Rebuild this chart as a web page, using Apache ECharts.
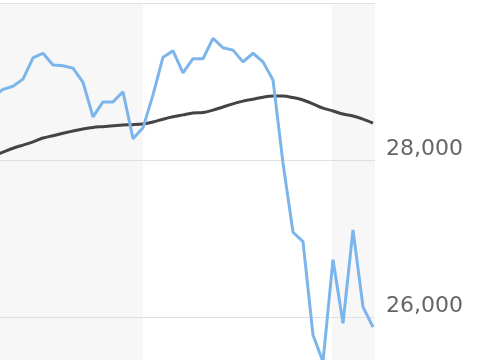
<!DOCTYPE html>
<html>
<head>
<meta charset="utf-8">
<script src="https://cdn.jsdelivr.net/npm/echarts@6/dist/echarts.min.js"></script>
<style>html,body{margin:0;padding:0;background:#fff;}#c{width:480px;height:360px;}</style>
</head>
<body>
<div id="c"></div>
<script>
// Price series (blue) and moving average (dark), one value per day
const priceValues = [28800, 28900, 28940, 29030, 29300, 29360, 29210, 29200, 29170, 28990,
  28550, 28740, 28740, 28870, 28270, 28410, 28830, 29310, 29390, 29110,
  29290, 29290, 29550, 29430, 29400, 29250, 29360, 29250, 29020, 27960,
  27080, 26960, 25770, 25430, 26730, 25920, 27110, 26130, 25870];
const avgValues = [28050, 28100, 28150, 28190, 28230, 28280, 28310, 28340, 28370, 28395,
  28415, 28425, 28435, 28445, 28450, 28460, 28485, 28520, 28550, 28575,
  28600, 28605, 28635, 28675, 28715, 28750, 28775, 28800, 28815, 28815,
  28795, 28765, 28715, 28660, 28625, 28585, 28560, 28520, 28470];
// Shaded bands (in day index units)
const bands = [[0, 15], [33.9, 38.2]];
const yTicks = [24000, 26000, 28000, 30000];

const chart = echarts.init(document.getElementById('c'), null, {renderer: 'canvas'});
const toPairs = arr => arr.map((v, i) => [i, v]);
chart.setOption({
  animation: false,
  grid: {left: -7, top: 3, width: 382, height: 471, containLabel: false, outerBoundsMode: 'none'},
  xAxis: {type: 'value', min: 0, max: 38.2, show: false},
  yAxis: {
    type: 'value', position: 'right', min: yTicks[0], max: yTicks[yTicks.length - 1], interval: 2000,
    z: 2,
    axisLine: {show: false}, axisTick: {show: false},
    splitLine: {lineStyle: {color: '#e0e0e0', width: 1}},
    axisLabel: {
      margin: 11, color: '#666666', fontSize: 22, fontFamily: 'DejaVu Sans',
      verticalAlign: 'bottom',
      formatter: v => v.toLocaleString('en-US')
    }
  },
  series: [
    {
      type: 'line', data: [], z: 0,
      markArea: {silent: true, z: 1, itemStyle: {color: '#f7f7f7'},
        data: bands.map(b => [{xAxis: b[0]}, {xAxis: b[1]}])}
    },
    {
      type: 'line', data: toPairs(avgValues), z: 3, showSymbol: false, smooth: 0.3,
      lineStyle: {color: '#434348', width: 3}
    },
    {
      type: 'line', data: toPairs(priceValues), z: 4, showSymbol: false,
      lineStyle: {color: '#7cb5ec', width: 3}
    }
  ]
});
</script>
</body>
</html>
